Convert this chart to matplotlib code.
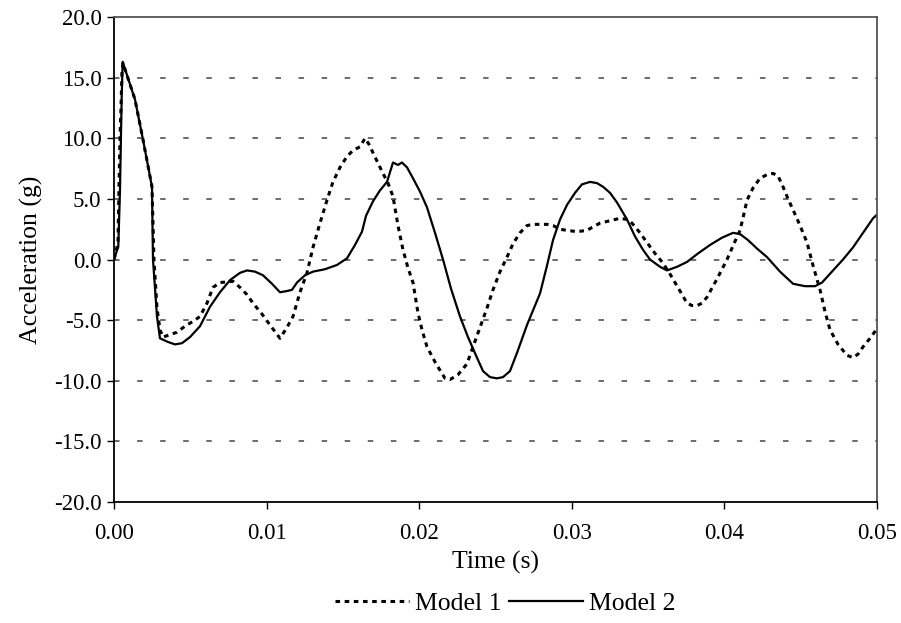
import numpy as np
import matplotlib
matplotlib.use("Agg")
import matplotlib.pyplot as plt
from matplotlib.ticker import FormatStrFormatter

plt.rcParams['font.family'] = ['Liberation Serif', 'DejaVu Serif']
plt.rcParams['axes.unicode_minus'] = False

# ---- data (time in ms, acceleration in g) ----
time1_ms = [0.000, 0.131, 0.262, 0.328, 0.393, 0.459, 0.524, 0.590, 1.376, 1.900,
            2.490, 2.621, 2.818, 3.014, 3.211, 3.670, 4.128, 4.653, 5.177, 5.636,
            6.094, 6.488, 6.946, 7.798, 8.257, 8.716, 9.109, 9.699, 10.223, 10.878,
            11.337, 11.730, 12.189, 12.647, 13.041, 13.499, 13.958, 14.351, 14.810, 15.269,
            15.662, 16.121, 16.448, 16.710, 16.972, 17.628, 17.955, 18.283, 18.611, 18.939,
            19.266, 19.594, 19.921, 20.183, 20.511, 21.101, 21.691, 22.018, 22.543, 23.133,
            23.526, 23.984, 24.443, 24.836, 25.295, 25.754, 26.147, 26.606, 27.064, 27.457,
            27.916, 28.375, 28.768, 29.227, 29.685, 30.341, 30.996, 31.389, 31.848, 32.503,
            33.159, 33.617, 33.945, 34.469, 34.928, 35.452, 35.976, 36.435, 37.090, 37.549,
            37.877, 38.204, 38.532, 38.860, 39.515, 40.170, 40.695, 41.023, 41.285, 41.481,
            41.874, 42.333, 42.792, 43.185, 43.512, 43.840, 44.168, 44.496, 44.954, 45.413,
            45.806, 46.265, 46.592, 46.920, 47.444, 48.034, 48.427, 48.755, 49.083, 49.541,
            50.000]
accel1 = [0.0, 0.6, 1.5, 6.0, 10.0, 12.5, 15.5, 16.2, 13.2, 9.9,
          6.0, 0.0, -4.0, -5.8, -6.4, -6.2, -6.0, -5.5, -5.1, -4.7,
          -3.6, -2.3, -1.9, -1.8, -2.3, -2.9, -3.6, -4.5, -5.4, -6.5,
          -5.6, -4.7, -2.7, -1.1, 1.0, 3.0, 4.9, 6.4, 7.6, 8.5,
          9.0, 9.3, 10.0, 9.5, 8.8, 7.1, 6.3, 5.2, 2.8, 0.8,
          -0.7, -1.9, -4.4, -5.8, -7.2, -8.6, -9.8, -9.9, -9.5, -8.6,
          -7.2, -5.6, -4.0, -2.5, -1.0, 0.2, 1.3, 2.2, 2.8, 2.9,
          2.9, 2.9, 2.8, 2.5, 2.4, 2.3, 2.4, 2.7, 3.0, 3.2,
          3.4, 3.3, 3.0, 2.2, 1.4, 0.5, -0.3, -1.2, -2.6, -3.6,
          -3.8, -3.8, -3.6, -3.1, -1.6, 0.0, 1.5, 2.4, 3.8, 4.9,
          5.9, 6.7, 7.0, 7.1, 6.9, 6.0, 5.0, 4.1, 2.8, 1.4,
          -0.5, -2.5, -4.3, -5.8, -7.0, -7.9, -8.1, -7.8, -7.2, -6.5,
          -5.7]

time2_ms = [0.000, 0.131, 0.282, 0.393, 0.505, 0.570, 1.376, 1.900, 2.490, 2.556,
            2.818, 3.014, 3.539, 3.997, 4.456, 4.980, 5.636, 6.291, 6.946, 7.602,
            8.257, 8.716, 9.240, 9.764, 10.354, 10.878, 11.337, 11.664, 11.992, 12.516,
            13.041, 13.827, 14.613, 15.269, 15.793, 16.252, 16.514, 16.972, 17.431, 17.890,
            18.283, 18.611, 18.873, 19.201, 19.594, 20.052, 20.511, 21.035, 21.560, 22.084,
            22.674, 23.198, 23.788, 24.181, 24.640, 25.098, 25.491, 25.950, 26.409, 27.064,
            27.457, 27.916, 28.375, 28.768, 29.227, 29.685, 30.210, 30.668, 31.193, 31.651,
            32.045, 32.503, 32.962, 33.617, 34.142, 34.666, 35.125, 35.780, 36.239, 36.894,
            37.549, 38.270, 39.057, 39.843, 40.564, 41.023, 41.547, 42.137, 42.792, 43.644,
            44.496, 45.282, 45.937, 46.396, 47.117, 47.772, 48.427, 49.083, 49.738, 50.000]
accel2 = [0.0, 0.5, 1.05, 5.7, 13.4, 16.3, 13.2, 9.9, 6.0, 0.0,
          -4.7, -6.5, -6.8, -7.0, -6.9, -6.4, -5.5, -3.9, -2.7, -1.7,
          -1.1, -0.9, -1.0, -1.3, -2.0, -2.7, -2.6, -2.5, -1.9, -1.3,
          -1.0, -0.8, -0.45, 0.1, 1.2, 2.3, 3.6, 4.8, 5.7, 6.4,
          8.0, 7.8, 8.0, 7.6, 6.7, 5.6, 4.3, 2.2, 0.0, -2.4,
          -4.7, -6.4, -8.1, -9.2, -9.7, -9.8, -9.7, -9.2, -7.7, -5.4,
          -4.2, -2.8, -0.5, 1.6, 3.3, 4.5, 5.5, 6.2, 6.4, 6.3,
          6.0, 5.5, 4.7, 3.3, 1.9, 0.8, 0.0, -0.6, -0.9, -0.6,
          -0.2, 0.5, 1.2, 1.8, 2.2, 2.1, 1.6, 0.9, 0.2, -1.0,
          -2.0, -2.2, -2.2, -1.9, -0.9, 0.0, 1.0, 2.2, 3.4, 3.7]

series_labels = ["Model 1", "Model 2"]
x_ticks = [0.00, 0.01, 0.02, 0.03, 0.04, 0.05]
y_ticks = [-20, -15, -10, -5, 0, 5, 10, 15, 20]

t1 = np.array(time1_ms) / 1000.0
t2 = np.array(time2_ms) / 1000.0

fig = plt.figure(figsize=(9.01, 6.23), dpi=100)
ax = fig.add_axes([0.1265, 0.1942, 0.8469, 0.7785])

for yv in y_ticks[1:-1]:
    ax.axhline(yv, color='#444444', lw=1.1, dashes=(3.6, 11.5), zorder=1)

ax.plot(t1, accel1, color='black', lw=2.2, dashes=(1.5, 1.5), label=series_labels[0], zorder=3)
ax.plot(t2, accel2, color='black', lw=1.6, label=series_labels[1], zorder=2)

ax.set_xlim(0, 0.05)
ax.set_ylim(-20, 20)
ax.set_xticks(x_ticks)
ax.set_yticks(y_ticks)
ax.xaxis.set_major_formatter(FormatStrFormatter('%.2f'))
ax.yaxis.set_major_formatter(FormatStrFormatter('%.1f'))
ax.tick_params(axis='both', direction='out', length=5, width=1.0, labelsize=16.5, colors='black')
ax.tick_params(axis='x', pad=10)
ax.tick_params(axis='y', pad=4)

for side in ['left', 'bottom']:
    ax.spines[side].set_color('black')
    ax.spines[side].set_linewidth(1.3)
for side in ['top', 'right']:
    ax.spines[side].set_color('#555555')
    ax.spines[side].set_linewidth(1.3)

ax.set_xlabel('Time (s)', fontsize=18.5, labelpad=5)
ax.set_ylabel('Acceleration (g)', fontsize=18.5, labelpad=8)

leg = fig.legend(loc='center', bbox_to_anchor=(0.561, 0.032), ncol=2, frameon=False,
                 fontsize=18.5, handlelength=2.85, handletextpad=0.25, columnspacing=0.3)

fig.savefig('out.png', dpi=100)
